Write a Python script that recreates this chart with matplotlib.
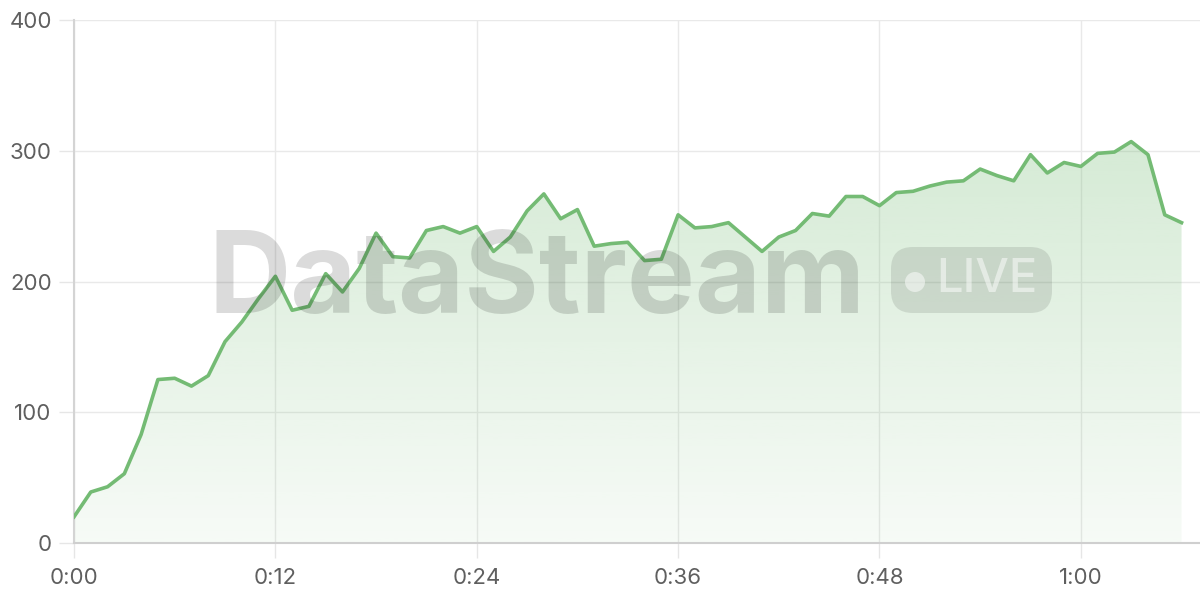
import matplotlib
matplotlib.use("Agg")
import matplotlib.pyplot as plt
from matplotlib.patches import FancyBboxPatch, Circle
import numpy as np

# one sample per second, 0:00 .. 1:06
seconds = np.arange(67)
values = [20, 39, 43, 53, 83, 125, 126, 120, 128, 154,
          169, 187, 204, 178, 181, 206, 192, 210, 237, 219,
          218, 239, 242, 237, 242, 223, 234, 254, 267, 248,
          255, 227, 229, 230, 216, 217, 251, 241, 242, 245,
          234, 223, 234, 239, 252, 250, 265, 265, 258, 268,
          269, 273, 276, 277, 286, 281, 277, 297, 283, 291,
          288, 298, 299, 307, 297, 251, 245]
x_ticks = [0, 12, 24, 36, 48, 60]
x_labels = ['0:00', '0:12', '0:24', '0:36', '0:48', '1:00']
y_ticks = [0, 100, 200, 300, 400]

line_col = '#74bb74'
plt.rcParams['font.family'] = ['Inter', 'DejaVu Sans']

fig = plt.figure(figsize=(12, 6), dpi=100)
ax = fig.add_axes([74/1200, 1 - 543/600, 1 - 74/1200, (543 - 20)/600])

# gradient fill under the line, clipped to the area polygon
ymax = max(values)
rgba = np.zeros((256, 1, 4))
rgba[..., :3] = matplotlib.colors.to_rgb(line_col)
rgba[..., 3] = np.linspace(0.06, 0.30, 256).reshape(-1, 1)
img = ax.imshow(rgba, origin='lower', aspect='auto',
                extent=[0, seconds[-1], 0, ymax], zorder=1)
area = ax.fill_between(seconds, values, 0, color='none')
img.set_clip_path(area.get_paths()[0], transform=ax.transData)

ax.plot(seconds, values, color=line_col, lw=2.6, zorder=3)

ax.set_xlim(0, 67.1)
ax.set_ylim(0, 400)
ax.set_xticks(x_ticks, x_labels)
ax.set_yticks(y_ticks)
ax.grid(True, color='#e9e9e9', lw=1.0, zorder=0)
ax.set_axisbelow(True)
for s in ['top', 'right']:
    ax.spines[s].set_visible(False)
ax.spines['left'].set_color('#d4d4d4')
ax.spines['bottom'].set_color('#cfcfcf')
ax.spines['left'].set_linewidth(1.5)
ax.spines['bottom'].set_linewidth(1.5)
ax.tick_params(axis='both', colors='#e6e6e6', length=11, width=1.0,
               labelcolor='#5f5f5f', labelsize=16)
ax.tick_params(axis='x', pad=7)
ax.tick_params(axis='y', pad=5)

# watermark
fig.text(208/1200, 1 - 313/600, 'DataStream', fontsize=82, fontweight='bold',
         color='black', alpha=0.14, ha='left', va='baseline', zorder=10)
box = FancyBboxPatch((891, 600 - 313), 161, 66,
                     boxstyle='round,pad=0,rounding_size=22',
                     transform=None, facecolor='black', alpha=0.10,
                     edgecolor='none', zorder=10)
fig.patches.append(box)
dot = Circle((915, 600 - 282), 10, transform=None, facecolor='white',
             alpha=0.5, edgecolor='none', zorder=11)
fig.patches.append(dot)
fig.text(936/1200, 1 - 280/600, 'LIVE', fontsize=34, fontweight='medium',
         color='white', alpha=0.5, ha='left', va='center', zorder=11)

fig.savefig('out.png', dpi=100)
